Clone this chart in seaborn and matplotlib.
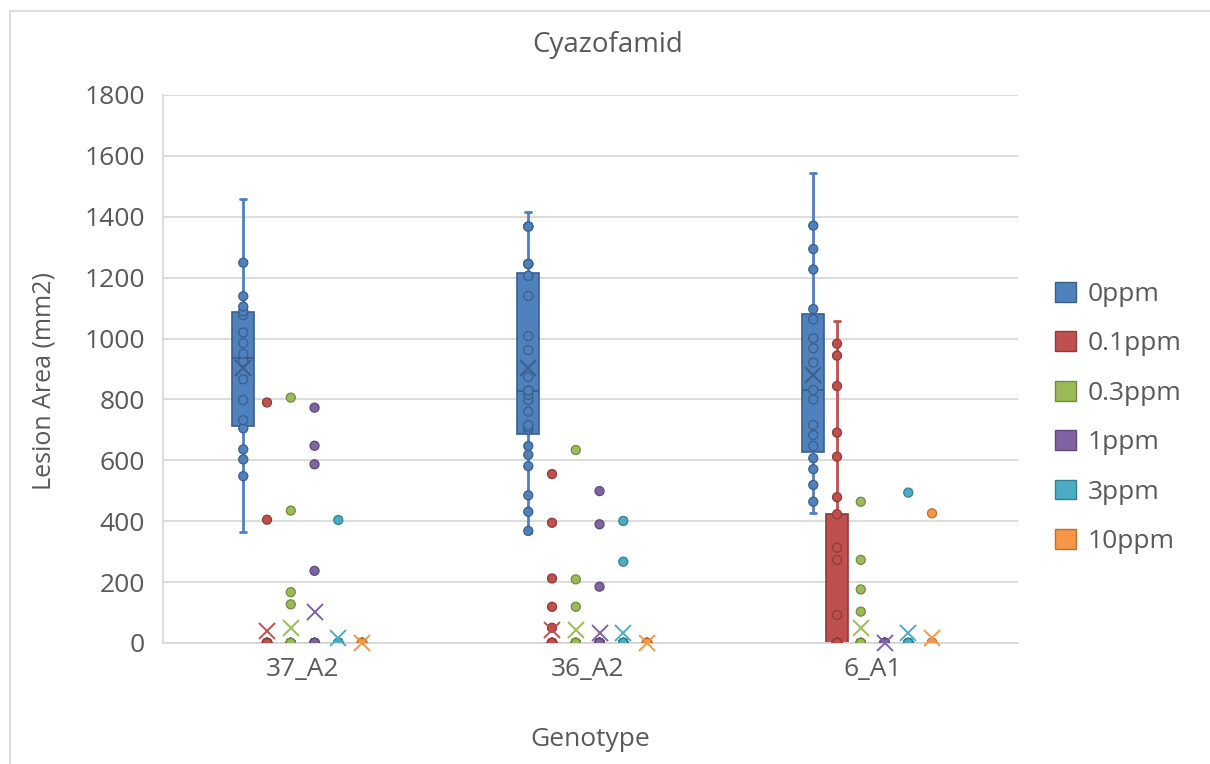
import numpy as np
import pandas as pd
import matplotlib
matplotlib.use("Agg")
import matplotlib.pyplot as plt
from matplotlib import cbook
from matplotlib.patches import Patch, Rectangle
import seaborn as sns

genotypes = ["37_A2", "36_A2", "6_A1"]
doses = ["0ppm", "0.1ppm", "0.3ppm", "1ppm", "3ppm", "10ppm"]

# Lesion area (mm2) per genotype and cyazofamid dose
g37_0ppm = [364, 548, 603, 636, 705, 732, 798, 866, 925, 950, 985, 1020, 1077, 1090,
            1105, 1139, 1249, 1460]
g37_01ppm = [790, 405] + [0] * 29
g37_03ppm = [806, 435, 167, 127] + [0] * 27
g37_1ppm = [773, 648, 587, 237] + [0] * 18
g37_3ppm = [404] + [0] * 24
g37_10ppm = [0] * 30

g36_0ppm = [360, 368, 431, 485, 581, 618, 647, 700, 708, 716, 760, 798, 815, 829, 829,
            874, 962, 1008, 1140, 1206, 1206, 1245, 1245, 1245, 1368, 1368, 1368, 1417]
g36_01ppm = [555, 395, 212, 119, 50] + [0] * 26
g36_03ppm = [634, 209, 119] + [0] * 19
g36_1ppm = [499, 390, 185] + [0] * 30
g36_3ppm = [401, 267] + [0] * 19
g36_10ppm = [0] * 30

g6_0ppm = [428, 464, 519, 571, 607, 647, 683, 716, 800, 831, 921, 968, 1001, 1063,
           1097, 1227, 1294, 1371, 1543]
g6_01ppm = [1058, 983, 944, 844, 691, 612, 479, 423, 313, 273, 92] + [0] * 18
g6_03ppm = [464, 273, 176, 103] + [0] * 17
g6_1ppm = [0] * 30
g6_3ppm = [494] + [0] * 14
g6_10ppm = [426] + [0] * 27

series = {
    "37_A2": [g37_0ppm, g37_01ppm, g37_03ppm, g37_1ppm, g37_3ppm, g37_10ppm],
    "36_A2": [g36_0ppm, g36_01ppm, g36_03ppm, g36_1ppm, g36_3ppm, g36_10ppm],
    "6_A1": [g6_0ppm, g6_01ppm, g6_03ppm, g6_1ppm, g6_3ppm, g6_10ppm],
}

fills = ["#4F81BD", "#C0504D", "#9BBB59", "#8064A2", "#4BACC6", "#F79646"]
edges = ["#3A5F8B", "#8E3B39", "#718A41", "#5E4A78", "#367F93", "#B86F33"]
mean_cols = ["#3A5F8B", "#C0504D", "#9BBB59", "#8064A2", "#4BACC6", "#F79646"]
palette = dict(zip(doses, fills))
WHIS = 1.6

rows, pts = [], []
for g in genotypes:
    for d, vals in zip(doses, series[g]):
        for v in vals:
            rows.append((g, d, v))
        # points drawn between the whisker ends (the ends themselves are not marked)
        st = cbook.boxplot_stats(np.asarray(vals, float), whis=WHIS)[0]
        rest = list(vals)
        for end in (st["whislo"], st["whishi"]):
            for i, v in enumerate(rest):
                if v == end:
                    rest.pop(i)
                    break
        for v in rest:
            pts.append((g, d, v))

df = pd.DataFrame(rows, columns=["genotype", "dose", "area"])
pdf = pd.DataFrame(pts, columns=["genotype", "dose", "area"])

sns.set_theme(style="white")
plt.rcParams["font.family"] = ["Open Sans", "DejaVu Sans"]
TXT = "#595959"
GRID = "#D9D9D9"

fig = plt.figure(figsize=(12.1, 7.64), dpi=100)
ax = fig.add_axes([163 / 1210, 1 - 643 / 764, (1018 - 163) / 1210, (643 - 95) / 764])

for k, d in enumerate(doses):
    sub = df[df["dose"] == d]
    n_before = len(ax.lines)
    sns.boxplot(data=sub, x="genotype", y="area", hue="dose", order=genotypes,
                hue_order=doses, palette=palette, saturation=1, width=0.5, gap=0.08,
                dodge=True, whis=WHIS, showfliers=False, showmeans=True,
                linecolor=edges[k], linewidth=1.2,
                whiskerprops=dict(color=fills[k], linewidth=2),
                capprops=dict(color=fills[k], linewidth=2),
                medianprops=dict(color=edges[k], linewidth=1.3),
                meanprops=dict(marker="x", markeredgecolor=mean_cols[k],
                               markersize=12, markeredgewidth=1.4),
                legend=False, ax=ax)
    for ln in ax.lines[n_before:]:
        if ln.get_marker() == "x":
            ln.set_clip_on(False)
            ln.set_zorder(4)
            continue
        xs, ys = np.asarray(ln.get_xdata(), float), np.asarray(ln.get_ydata(), float)
        # short whisker caps
        if (len(xs) == 2 and ys[0] == ys[1] and xs[0] != xs[1]
                and matplotlib.colors.same_color(ln.get_color(), fills[k])):
            xm = xs.mean()
            ln.set_xdata(xm + (xs - xm) * 0.55)

for k, d in enumerate(doses):
    sub = pdf[pdf["dose"] == d]
    n_before = len(ax.collections)
    sns.stripplot(data=sub, x="genotype", y="area", hue="dose", order=genotypes,
                  hue_order=doses, palette=palette, dodge=True, jitter=False, size=6.5,
                  linewidth=0.9, edgecolor=edges[k], legend=False, ax=ax, zorder=3)
    # stripplot dodges over 0.8 of a category; pull the strips in to the 0.5 box width
    for coll in ax.collections[n_before:]:
        off = coll.get_offsets()
        if len(off):
            xc = np.round(off[:, 0])
            off[:, 0] = xc + (off[:, 0] - xc) * (0.5 / 0.8)
            coll.set_offsets(off)

ax.set_xlim(-0.49, 2.51)
ax.set_ylim(0, 1800)
ax.set_yticks(np.arange(0, 1801, 200))
ax.yaxis.grid(True, color=GRID, linewidth=1.3)
ax.xaxis.grid(False)
ax.set_axisbelow(True)
for s in ["top", "right"]:
    ax.spines[s].set_visible(False)
for s in ["left", "bottom"]:
    ax.spines[s].set_color(GRID)
    ax.spines[s].set_linewidth(1.3)
ax.tick_params(axis="both", length=0, labelsize=19, colors=TXT)
ax.tick_params(axis="y", pad=13)
ax.tick_params(axis="x", pad=10)
ax.set_xlabel("")
ax.set_ylabel("")

fig.text(608 / 1210, 1 - 45 / 764, "Cyazofamid", ha="center", va="center",
         fontsize=20, color=TXT)
fig.text(590 / 1210, 1 - 739 / 764, "Genotype", ha="center", va="center",
         fontsize=19, color=TXT)
fig.text(44 / 1210, 1 - 381 / 764, "Lesion Area (mm2)", ha="center", va="center",
         rotation=90, fontsize=18, color=TXT)

handles = [Patch(facecolor=f, edgecolor=e, linewidth=1) for f, e in zip(fills, edges)]
fig.legend(handles, doses, loc="center left", bbox_to_anchor=(1042 / 1210, 1 - 418 / 764),
           frameon=False, fontsize=19, handlelength=0.78, handleheight=0.78,
           handletextpad=0.45, labelspacing=0.92, labelcolor=TXT, borderpad=0)

fig.patches.append(Rectangle((10 / 1210, -0.05), 1.2, 1 - 11 / 764 + 0.05,
                             transform=fig.transFigure, fill=False,
                             edgecolor=GRID, linewidth=1.3))

fig.savefig("out.png", dpi=100)
